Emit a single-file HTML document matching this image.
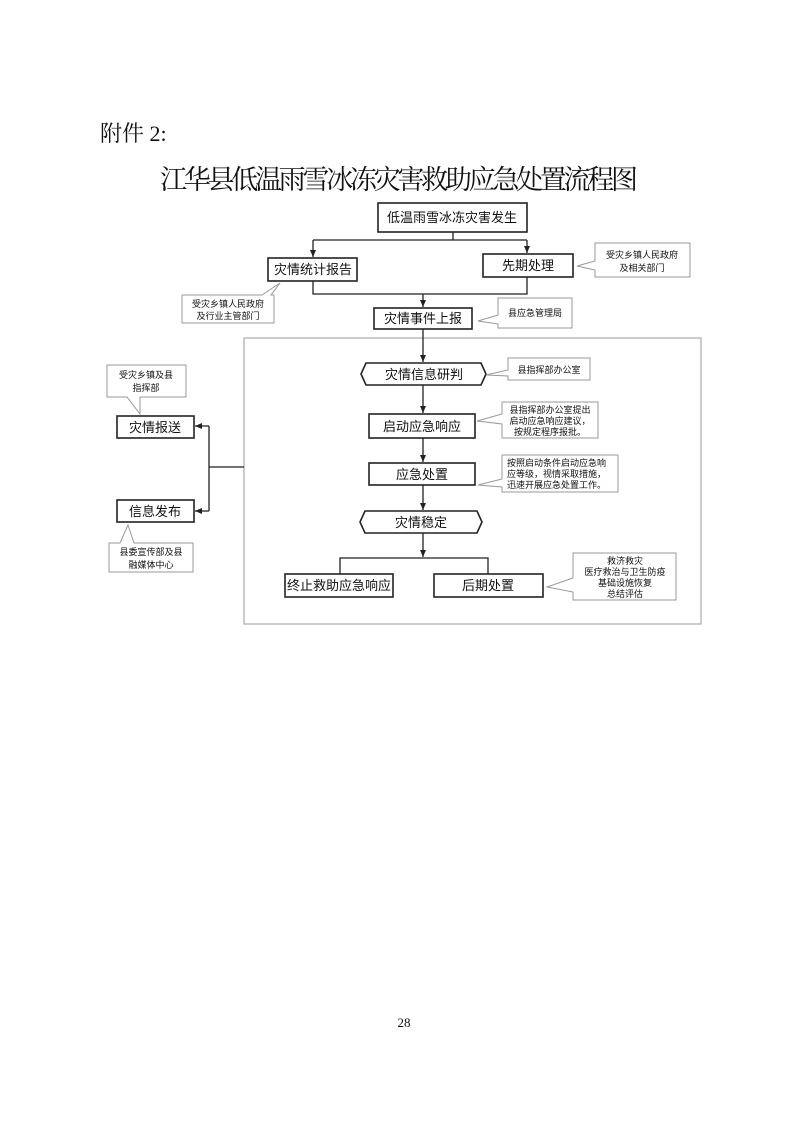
<!DOCTYPE html>
<html><head><meta charset="utf-8"><style>
html,body{margin:0;padding:0;background:#fff}
svg{display:block}
text{font-family:"Liberation Sans","Noto Sans CJK SC",sans-serif;fill:#111}
.t{font-family:"Liberation Serif","Noto Serif CJK SC",serif}
.b{fill:#fff;stroke:#222;stroke-width:1.6}
.c{fill:#fff;stroke:#999;stroke-width:1}
.l{stroke:#222;stroke-width:1.3;fill:none}
</style></head><body>
<svg width="797" height="1125" viewBox="0 0 797 1125" xmlns="http://www.w3.org/2000/svg">
<defs><marker id="a" markerWidth="8" markerHeight="8" refX="7" refY="4" orient="auto" markerUnits="userSpaceOnUse"><path d="M0,1 L7,4 L0,7 z" fill="#222"/></marker></defs>
<rect width="797" height="1125" fill="#fff"/>
<text class="t" x="100" y="141" font-size="22">附件 2:</text>
<text class="t" x="399" y="189" font-size="27" text-anchor="middle" textLength="478">江华县低温雨雪冰冻灾害救助应急处置流程图</text>

<!-- top -->
<rect class="b" x="378" y="203" width="149" height="29"/>
<text x="452" y="222" font-size="13" text-anchor="middle">低温雨雪冰冻灾害发生</text>
<path class="l" d="M453 232 V240 M313 240 H527"/>
<path class="l" d="M313 240 V257" marker-end="url(#a)"/>
<path class="l" d="M527 240 V253" marker-end="url(#a)"/>
<rect class="b" x="268" y="258" width="89" height="23"/>
<text x="313" y="274" font-size="13" text-anchor="middle">灾情统计报告</text>
<rect class="b" x="483" y="254" width="90" height="23"/>
<text x="528" y="270" font-size="13" text-anchor="middle">先期处理</text>
<path class="l" d="M313 281 V294 H527 V277"/>
<path class="l" d="M423 294 V307" marker-end="url(#a)"/>
<rect class="b" x="374" y="308" width="98" height="21"/>
<text x="423" y="323" font-size="13" text-anchor="middle">灾情事件上报</text>

<!-- callouts top -->
<path class="c" d="M595 243 H690 V277 H595 V270 L577 266 L595 261 Z"/>
<text x="642" y="258" font-size="9" text-anchor="middle">受灾乡镇人民政府</text>
<text x="642" y="271" font-size="9" text-anchor="middle">及相关部门</text>
<path class="c" d="M182 295 H262 L280 283 L271 295 H274 V323 H182 Z"/>
<text x="228" y="307" font-size="9" text-anchor="middle">受灾乡镇人民政府</text>
<text x="228" y="319" font-size="9" text-anchor="middle">及行业主管部门</text>
<path class="c" d="M498 298 H572 V328 H498 V324 L478 321 L498 315 Z"/>
<text x="535" y="316" font-size="9" text-anchor="middle">县应急管理局</text>

<!-- container -->
<rect x="244" y="338" width="457" height="286" fill="none" stroke="#aaa" stroke-width="1.2"/>
<path class="l" d="M423 329 V362" marker-end="url(#a)"/>
<path class="b" d="M366 363 H481 L486 374 L481 385 H366 L361 374 Z"/>
<text x="424" y="379" font-size="13" text-anchor="middle">灾情信息研判</text>
<path class="c" d="M508 358 H590 V380 H508 V376 L486 375 L508 370 Z"/>
<text x="549" y="373" font-size="9" text-anchor="middle">县指挥部办公室</text>
<path class="l" d="M423 385 V413" marker-end="url(#a)"/>
<rect class="b" x="369" y="414" width="106" height="24"/>
<text x="422" y="431" font-size="13" text-anchor="middle">启动应急响应</text>
<path class="c" d="M502 402 H598 V438 H502 V424 L477 421 L502 414 Z"/>
<text x="550" y="413" font-size="9" text-anchor="middle">县指挥部办公室提出</text>
<text x="550" y="424" font-size="9" text-anchor="middle">启动应急响应建议，</text>
<text x="550" y="435" font-size="9" text-anchor="middle">按规定程序报批。</text>
<path class="l" d="M423 438 V462" marker-end="url(#a)"/>
<rect class="b" x="369" y="463" width="106" height="22"/>
<text x="422" y="479" font-size="13" text-anchor="middle">应急处置</text>
<path class="c" d="M502 455 H618 V492 H502 V487 L478 485 L502 479 Z"/>
<text x="507" y="466" font-size="9">按照启动条件启动应急响</text>
<text x="507" y="477" font-size="9">应等级，视情采取措施，</text>
<text x="507" y="488" font-size="9">迅速开展应急处置工作。</text>
<path class="l" d="M423 485 V510" marker-end="url(#a)"/>
<path class="b" d="M365 511 H477 L482 522 L477 533 H365 L360 522 Z"/>
<text x="421" y="527" font-size="13" text-anchor="middle">灾情稳定</text>
<path class="l" d="M423 533 V557" marker-end="url(#a)"/>
<path class="l" d="M340 574 V558 H488 V574"/>
<rect class="b" x="285" y="574" width="108" height="23"/>
<text x="339" y="590" font-size="13" text-anchor="middle">终止救助应急响应</text>
<rect class="b" x="434" y="574" width="109" height="23"/>
<text x="488" y="590" font-size="13" text-anchor="middle">后期处置</text>
<path class="c" d="M573 553 H676 V600 H573 V592 L547 587 L573 578 Z"/>
<text x="625" y="564" font-size="9" text-anchor="middle">救济救灾</text>
<text x="625" y="575" font-size="9" text-anchor="middle">医疗救治与卫生防疫</text>
<text x="625" y="586" font-size="9" text-anchor="middle">基础设施恢复</text>
<text x="625" y="597" font-size="9" text-anchor="middle">总结评估</text>

<!-- left -->
<path class="l" d="M244 467 H209 M209 426 V511"/>
<path class="l" d="M209 426 H195" marker-end="url(#a)"/>
<path class="l" d="M209 511 H195" marker-end="url(#a)"/>
<rect class="b" x="117" y="416" width="77" height="22"/>
<text x="155" y="432" font-size="13" text-anchor="middle">灾情报送</text>
<rect class="b" x="117" y="500" width="77" height="22"/>
<text x="155" y="516" font-size="13" text-anchor="middle">信息发布</text>
<path class="c" d="M107 365 H186 V397 H140 V414 L127 397 H107 Z"/>
<text x="146" y="378" font-size="9" text-anchor="middle">受灾乡镇及县</text>
<text x="146" y="391" font-size="9" text-anchor="middle">指挥部</text>
<path class="c" d="M109 543 H120 L128 525 L134 543 H193 V572 H109 Z"/>
<text x="151" y="555" font-size="9" text-anchor="middle">县委宣传部及县</text>
<text x="151" y="568" font-size="9" text-anchor="middle">融媒体中心</text>

<text class="t" x="404" y="1027" font-size="13" text-anchor="middle">28</text>
</svg>
</body></html>
